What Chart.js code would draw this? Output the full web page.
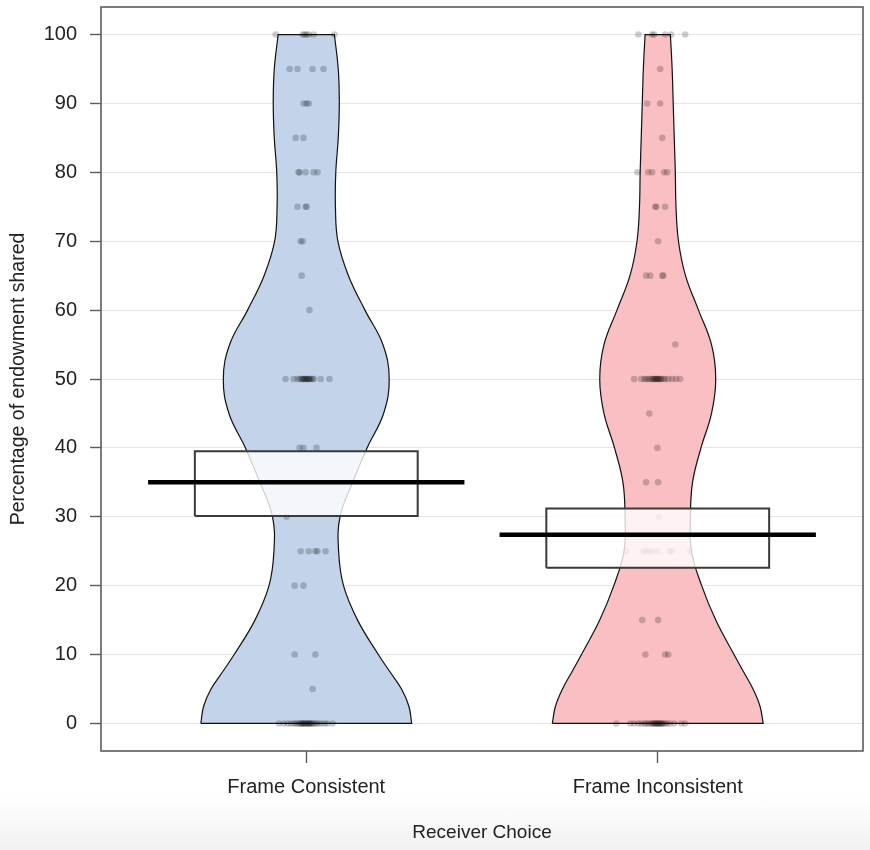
<!DOCTYPE html>
<html>
<head>
<meta charset="utf-8">
<script src="https://cdn.jsdelivr.net/npm/chart.js@4.4.1/dist/chart.umd.min.js"></script>
<style>
  body { margin: 0; background: linear-gradient(to bottom, #fff 0, #fff 795px, #f1f1f1 850px); }
  #chart { display: block; }
</style>
</head>
<body>
<canvas id="chart" width="870" height="850"></canvas>
<script>
const categories = ['Frame Consistent', 'Frame Inconsistent'];
const yTicks = [0, 10, 20, 30, 40, 50, 60, 70, 80, 90, 100];

// bean outline: half width (in category units) at each level
const violinLevels = [0, 2.5, 5, 7.5, 10, 15, 20, 25, 30, 35, 40, 45, 50, 55, 60, 65, 70, 75, 80, 85, 90, 95, 100];
const consistentWidth = [0.300, 0.292, 0.271, 0.238, 0.205, 0.146, 0.106, 0.092, 0.096, 0.132, 0.173, 0.220, 0.236, 0.218, 0.167, 0.120, 0.090, 0.083, 0.084, 0.091, 0.094, 0.091, 0.080];
const inconsistentWidth = [0.300, 0.291, 0.271, 0.244, 0.217, 0.165, 0.125, 0.096, 0.093, 0.099, 0.123, 0.153, 0.165, 0.153, 0.116, 0.079, 0.059, 0.052, 0.050, 0.047, 0.044, 0.041, 0.036];

// mean and HDI
const means = [35.0, 27.4];
const hdiLow = [30.1, 22.6];
const hdiHigh = [39.5, 31.2];

// raw responses: [value, jitter offsets]
const consistentPoints = [
  [100, [-0.087, -0.010, -0.005, 0.001, 0.007, 0.021, 0.080]],
  [95, [-0.047, -0.025, 0.018, 0.049]],
  [90, [-0.008, 0.001, 0.007]],
  [85, [-0.030, -0.008]],
  [80, [-0.022, -0.019, -0.002, 0.021, 0.032]],
  [75, [-0.025, -0.002, 0.001]],
  [70, [-0.016, -0.010]],
  [65, [-0.013]],
  [60, [0.009]],
  [50, [-0.059, -0.036, -0.025, -0.019, -0.013, -0.010, -0.008, -0.005, -0.002, 0.001, 0.004, 0.007, 0.009, 0.012, 0.018, 0.021, 0.041, 0.066]],
  [40, [-0.019, -0.008, 0.029]],
  [30, [-0.056]],
  [25, [-0.016, 0.007, 0.026, 0.032, 0.055]],
  [20, [-0.033, -0.008]],
  [10, [-0.033, 0.026]],
  [5, [0.018]],
  [0, [-0.078, -0.064, -0.053, -0.044, -0.036, -0.030, -0.025, -0.019, -0.016, -0.013, -0.010, -0.008, -0.005, -0.002, 0.001, 0.004, 0.007, 0.009, 0.012, 0.015, 0.018, 0.024, 0.029, 0.035, 0.043, 0.052, 0.060, 0.075]]
];
const inconsistentPoints = [
  [100, [-0.055, -0.016, -0.010, 0.021, 0.038, 0.078]],
  [95, [0.007]],
  [90, [-0.030, 0.007]],
  [85, [0.013]],
  [80, [-0.058, -0.027, -0.016, 0.018, 0.027]],
  [75, [-0.007, -0.004, 0.021]],
  [70, [0.001]],
  [65, [-0.033, -0.021, 0.013, 0.016]],
  [55, [0.050]],
  [50, [-0.067, -0.047, -0.038, -0.033, -0.027, -0.021, -0.016, -0.013, -0.010, -0.007, -0.004, -0.001, 0.001, 0.004, 0.007, 0.010, 0.016, 0.021, 0.030, 0.041, 0.052, 0.064]],
  [45, [-0.024]],
  [40, [-0.001]],
  [35, [-0.033, 0.001]],
  [30, [0.004]],
  [25, [-0.089, -0.041, -0.033, -0.024, -0.016, -0.001, 0.033, 0.041, 0.092]],
  [15, [-0.044, 0.001]],
  [10, [-0.035, 0.021, 0.030]],
  [0, [-0.118, -0.078, -0.067, -0.055, -0.047, -0.038, -0.033, -0.027, -0.021, -0.016, -0.013, -0.010, -0.007, -0.004, -0.001, 0.001, 0.004, 0.007, 0.010, 0.013, 0.016, 0.021, 0.027, 0.035, 0.047, 0.067, 0.078]]
];

const beanColors = ['rgb(194, 211, 234)', 'rgb(249, 191, 194)'];
const boxHalf = 0.317;
const lineHalf = 0.45;

function beanPath(center, widths) {
  const n = violinLevels.length;
  const left = violinLevels.map((y, i) => ({ x: center - widths[i], y: y }));
  const right = violinLevels.map((y, i) => ({ x: center + widths[i], y: y })).reverse();
  // doubled corners keep the flat top and bottom straight
  return [...left, left[n - 1], ...right.slice(0, 1), ...right, right[n - 1], left[0]];
}

function jittered(center, rows) {
  const out = [];
  rows.forEach(([v, offs]) => offs.forEach(o => out.push({ x: center + o, y: v })));
  return out;
}

const datasets = [];
[consistentWidth, inconsistentWidth].forEach((w, i) => {
  const c = i + 1;
  datasets.push({
    data: beanPath(c, w),
    showLine: true, fill: 'shape', tension: 0.4,
    backgroundColor: beanColors[i], borderColor: '#111', borderWidth: 1.2,
    pointRadius: 0, order: 4
  });
  datasets.push({
    data: jittered(c, i === 0 ? consistentPoints : inconsistentPoints),
    showLine: false, pointRadius: 3.3, borderWidth: 0,
    backgroundColor: 'rgba(0, 0, 0, 0.2)', order: 3
  });
  datasets.push({
    data: [
      { x: c - boxHalf, y: hdiLow[i] }, { x: c + boxHalf, y: hdiLow[i] },
      { x: c + boxHalf, y: hdiHigh[i] }, { x: c - boxHalf, y: hdiHigh[i] },
      { x: c - boxHalf, y: hdiLow[i] }
    ],
    showLine: true, fill: 'shape', tension: 0,
    backgroundColor: 'rgba(255, 255, 255, 0.8)', borderColor: '#3a3a3a', borderWidth: 2,
    pointRadius: 0, order: 2
  });
  datasets.push({
    data: [{ x: c - lineHalf, y: means[i] }, { x: c + lineHalf, y: means[i] }],
    showLine: true, borderColor: '#000', borderWidth: 4.5, pointRadius: 0, order: 1
  });
});

const frame = {
  id: 'frame',
  afterDraw(chart) {
    const a = chart.chartArea, ctx = chart.ctx;
    ctx.save();
    ctx.strokeStyle = '#5c5c5c';
    ctx.lineWidth = 1.6;
    ctx.strokeRect(a.left, a.top, a.right - a.left, a.bottom - a.top);
    ctx.restore();
  }
};

const font = { family: '"Liberation Sans", Arial, sans-serif', size: 19 };
const tickFont = { ...font, size: 20 };

new Chart(document.getElementById('chart'), {
  type: 'scatter',
  data: { datasets },
  options: {
    responsive: false,
    animation: false,
    events: [],
    layout: { padding: { top: 7, right: 7, left: 0, bottom: 0 } },
    plugins: { legend: { display: false }, tooltip: { enabled: false } },
    scales: {
      x: {
        type: 'linear', min: 0.416, max: 2.584,
        afterBuildTicks: s => { s.ticks = [{ value: 1 }, { value: 2 }]; },
        afterFit: s => { s.height = 99; s.paddingLeft = 0; s.paddingRight = 0; },
        ticks: { callback: v => categories[v - 1], font: tickFont, color: '#222', padding: 12, maxRotation: 0 },
        grid: { drawOnChartArea: false, tickLength: 12, tickColor: '#5c5c5c', tickWidth: 1.4 },
        border: { display: false },
        title: { display: true, text: 'Receiver Choice', font, color: '#222', padding: { top: 0, bottom: 6 } }
      },
      y: {
        min: -4, max: 104,
        afterBuildTicks: s => { s.ticks = yTicks.map(v => ({ value: v })); },
        afterFit: s => { s.width = 101; s.paddingTop = 0; s.paddingBottom = 0; },
        ticks: { font: tickFont, color: '#222', padding: 13 },
        grid: { color: '#e6e6e6', lineWidth: 1, tickLength: 11, tickColor: '#5c5c5c', tickWidth: 1.4 },
        border: { display: false },
        title: { display: true, text: 'Percentage of endowment shared', font: { ...font, size: 19.5 }, color: '#222', padding: { top: 7, bottom: 0 } }
      }
    }
  },
  plugins: [frame]
});
</script>
</body>
</html>
